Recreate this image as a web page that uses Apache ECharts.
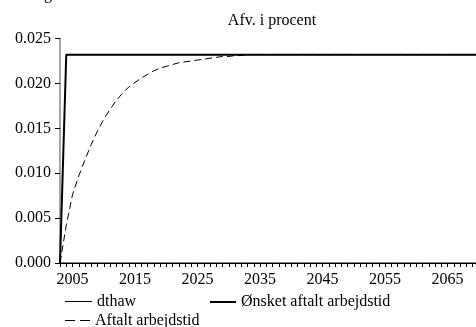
<!DOCTYPE html>
<html>
<head>
<meta charset="utf-8">
<script src="https://cdn.jsdelivr.net/npm/echarts@6/dist/echarts.min.js"></script>
<style>
    html, body { margin: 0; padding: 0; background: #fff; }
    #chart { width: 476px; height: 327px; }
</style>
</head>
<body>
<div id="chart"></div>
<script>
// årstal 2003-2075
var firstYear = 2003;
var lastYear = 2075;

var dthaw = [
    0, 0, 0, 0, 0, 0, 0, 0, 0, 0, 0, 0,
    0, 0, 0, 0, 0, 0, 0, 0, 0, 0, 0, 0,
    0, 0, 0, 0, 0, 0, 0, 0, 0, 0, 0, 0,
    0, 0, 0, 0, 0, 0, 0, 0, 0, 0, 0, 0,
    0, 0, 0, 0, 0, 0, 0, 0, 0, 0, 0, 0,
    0, 0, 0, 0, 0, 0, 0, 0, 0, 0, 0, 0,
    0
];

var onsket = [
    0,
    0.0232, 0.0232, 0.0232, 0.0232, 0.0232, 0.0232, 0.0232, 0.0232, 0.0232, 0.0232, 0.0232, 0.0232,
    0.0232, 0.0232, 0.0232, 0.0232, 0.0232, 0.0232, 0.0232, 0.0232, 0.0232, 0.0232, 0.0232, 0.0232,
    0.0232, 0.0232, 0.0232, 0.0232, 0.0232, 0.0232, 0.0232, 0.0232, 0.0232, 0.0232, 0.0232, 0.0232,
    0.0232, 0.0232, 0.0232, 0.0232, 0.0232, 0.0232, 0.0232, 0.0232, 0.0232, 0.0232, 0.0232, 0.0232,
    0.0232, 0.0232, 0.0232, 0.0232, 0.0232, 0.0232, 0.0232, 0.0232, 0.0232, 0.0232, 0.0232, 0.0232,
    0.0232, 0.0232, 0.0232, 0.0232, 0.0232, 0.0232, 0.0232, 0.0232, 0.0232, 0.0232, 0.0232, 0.0232
];

var aftalt = [
    0, 0.0042, 0.0076, 0.0097, 0.0115, 0.0132, 0.0147, 0.0160, 0.0171, 0.0181, 0.0189, 0.0196,
    0.0201, 0.0206, 0.0210, 0.0214, 0.0217, 0.0219, 0.0221, 0.0223, 0.0224, 0.0225, 0.0226, 0.0227,
    0.0228, 0.0229, 0.0230, 0.0230, 0.0231, 0.0231, 0.0232, 0.0232, 0.0232, 0.0232, 0.0232, 0.0232,
    0.0232, 0.0232, 0.0232, 0.0232, 0.0232, 0.0232, 0.0232, 0.0232, 0.0232, 0.0232, 0.0232, 0.0232,
    0.0232, 0.0232, 0.0232, 0.0232, 0.0232, 0.0232, 0.0232, 0.0232, 0.0232, 0.0232, 0.0232, 0.0232,
    0.0232, 0.0232, 0.0232, 0.0232, 0.0232, 0.0232, 0.0232, 0.0232, 0.0232, 0.0232, 0.0232, 0.0232,
    0.0232
];

var yTicks = [0, 0.005, 0.010, 0.015, 0.020, 0.025];

window.onload = function () {
    initChart();
}

function initChart() {
    var years = [];
    for (var y = firstYear; y <= lastYear; y++) {
        years.push(String(y));
    }
    var font = 'Liberation Serif';
    var legendText = { fontFamily: font, fontSize: 16, color: '#000' };
    // legend-ikoner som streger
    var solidIcon = 'path://M0,0h27v1h-27z';
    var thickIcon = 'path://M0,0h26v2h-26z';
    var dashIcon = 'path://M0,0h10v1h-10z M15,0h10v1h-10z';

    var chart = echarts.init(document.getElementById('chart'));
    chart.setOption({
        animation: false,
        textStyle: { fontFamily: font, color: '#000' },
        // plottet fortsætter ud over højre kant, som i originalen
        grid: { left: 60, top: 38.5, bottom: 64, width: 450, outerBoundsMode: 'none', containLabel: false },
        graphic: [
            {
                type: 'text', x: 272, y: 21,
                style: { text: 'Afv. i procent', font: '16px "Liberation Serif"', fill: '#000', align: 'center', verticalAlign: 'middle' }
            },
            {
                type: 'text', x: 44, y: 3,
                style: { text: 'g', font: '16px "Liberation Serif"', fill: '#000', align: 'left', verticalAlign: 'bottom' }
            }
        ],
        legend: [
            {
                data: [{ name: 'dthaw', icon: solidIcon }], left: 65, top: 293.5, padding: 0,
                itemWidth: 27, itemHeight: 1, itemGap: 5,
                itemStyle: { color: '#000' }, textStyle: legendText
            },
            {
                data: [{ name: 'Ønsket aftalt arbejdstid', icon: thickIcon }], left: 210, top: 294, padding: 0,
                itemWidth: 26, itemHeight: 2,
                itemStyle: { color: '#000' }, textStyle: legendText
            },
            {
                data: [{ name: 'Aftalt arbejdstid', icon: dashIcon }], left: 65, top: 312.5, padding: 0,
                itemWidth: 25, itemHeight: 1,
                itemStyle: { color: '#000' }, textStyle: legendText
            }
        ],
        xAxis: {
            type: 'category',
            data: years,
            boundaryGap: false,
            axisLine: { lineStyle: { color: '#000', width: 1 } },
            axisTick: { interval: 0, length: 4, lineStyle: { color: '#000' } },
            axisLabel: {
                interval: function (idx, val) { return (Number(val) - 2005) % 10 === 0; },
                fontFamily: font, fontSize: 16, color: '#000', margin: 9
            },
            splitLine: { show: false }
        },
        yAxis: {
            type: 'value',
            min: yTicks[0],
            max: yTicks[yTicks.length - 1],
            interval: 0.005,
            axisLine: { show: true, lineStyle: { color: '#888', width: 1.5 } },
            axisTick: { show: true, length: 5, lineStyle: { color: '#000' } },
            axisLabel: {
                formatter: function (v) { return v.toFixed(3); },
                fontFamily: font, fontSize: 16, color: '#000', margin: 9
            },
            splitLine: { show: false }
        },
        series: [
            {
                name: 'dthaw', type: 'line', data: dthaw, symbol: 'none',
                lineStyle: { color: '#000', width: 1 }, itemStyle: { color: '#000' }, z: 2
            },
            {
                name: 'Ønsket aftalt arbejdstid', type: 'line', data: onsket, symbol: 'none',
                lineStyle: { color: '#000', width: 2 }, itemStyle: { color: '#000' }, z: 3
            },
            {
                name: 'Aftalt arbejdstid', type: 'line', data: aftalt, symbol: 'none',
                lineStyle: { color: '#000', width: 1, type: [7, 4] }, itemStyle: { color: '#000' }, z: 4
            }
        ]
    });
}
</script>
</body>
</html>
